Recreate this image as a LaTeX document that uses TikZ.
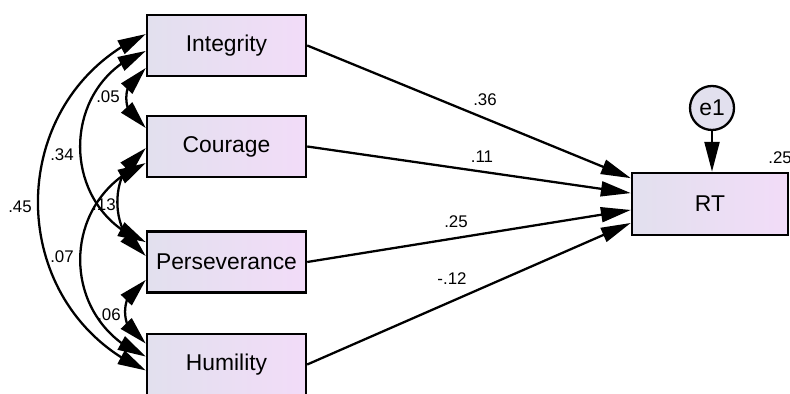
\documentclass[tikz,border=0pt]{standalone}
\usepackage{fontspec}
\setmainfont{Liberation Sans}
\usetikzlibrary{arrows.meta,bending}

\definecolor{boxleft}{RGB}{226,224,238}
\definecolor{boxright}{RGB}{242,220,248}

\tikzset{
  var/.style={draw, line width=1.4pt, left color=boxleft, right color=boxright,
    minimum width=3.18cm, minimum height=1.22cm, inner sep=0pt,
    font=\fontsize{13}{15}\selectfont},
  err/.style={circle, draw, line width=1.3pt, fill=boxleft, minimum size=0.88cm,
    inner sep=0pt, font=\fontsize{13}{15}\selectfont},
  regr/.style={line width=1.3pt, -{Triangle[length=17pt,width=8.5pt]}},
  cov/.style={line width=1.3pt, {Triangle[length=16pt,width=8.5pt,flex]}-{Triangle[length=16pt,width=8.5pt,flex]}},
  coef/.style={font=\fontsize{9.6}{11}\selectfont, inner sep=0pt}
}

\begin{document}
\begin{tikzpicture}[x=0.02cm,y=0.02cm]
\useasboundingbox (0,0) rectangle (790,394);

% observed variables
\node[var] (int) at (226.5,348.5) {Integrity};
\node[var] (cou) at (226.5,247.5) {Courage};
\node[var] (per) at (226.5,132) {Perseverance};
\node[var] (hum) at (226.5,29.5) {Humility};
\node[var, minimum width=3.12cm, minimum height=1.24cm] (rt) at (710,190) {RT};
\node[err] (e1) at (712,286) {e1};

% coefficients
\node[coef] (c36) at (485,294) {.36};
\node[coef] (c11) at (482,237) {.11};
\node[coef] (c25) at (456,172) {.25};
\node[coef] (c12) at (452,115) {-.12};
\node[coef, anchor=west] (r2) at (768,236) {.25};
\node[coef] (k45) at (20,187) {.45};
\node[coef] (k34) at (62,239) {.34};
\node[coef] (k07) at (62,137) {.07};
\node[coef, anchor=east] (k13) at (116,189) {.13};
\node[coef] (k05) at (108,297) {.05};
\node[coef] (k06) at (109,79) {.06};

\draw[regr] (int.east) -- ([yshift=14.7pt]rt.west);
\draw[regr] (cou.east) -- ([yshift=6.2pt]rt.west);
\draw[regr] (per.east) -- ([yshift=-3.4pt]rt.west);
\draw[regr] (hum.east) -- ([yshift=-10.8pt]rt.west);
\draw[regr] (e1) -- (e1 |- rt.north);

% covariances
\draw[cov] ([yshift=6.5pt]int.west) to[bend right=66, looseness=1.2] ([yshift=-3.4pt]hum.west);
\draw[cov] ([yshift=-3.1pt]int.west) to[bend right=70, looseness=1.25] ([yshift=11.3pt]per.west);
\draw[cov] ([yshift=-12.8pt]int.west) to[bend right=68, looseness=1.2] ([yshift=10.5pt]cou.west);
\draw[cov] ([yshift=-0.9pt]cou.west) to[bend right=60, looseness=1.04] ([yshift=3.4pt]per.west);
\draw[cov] ([yshift=-9.4pt]cou.west) to[bend right=68, looseness=1.25] ([yshift=4.5pt]hum.west);
\draw[cov] ([yshift=-10.2pt]per.west) to[bend right=68, looseness=1.2] ([yshift=11.9pt]hum.west);
\end{tikzpicture}
\end{document}
